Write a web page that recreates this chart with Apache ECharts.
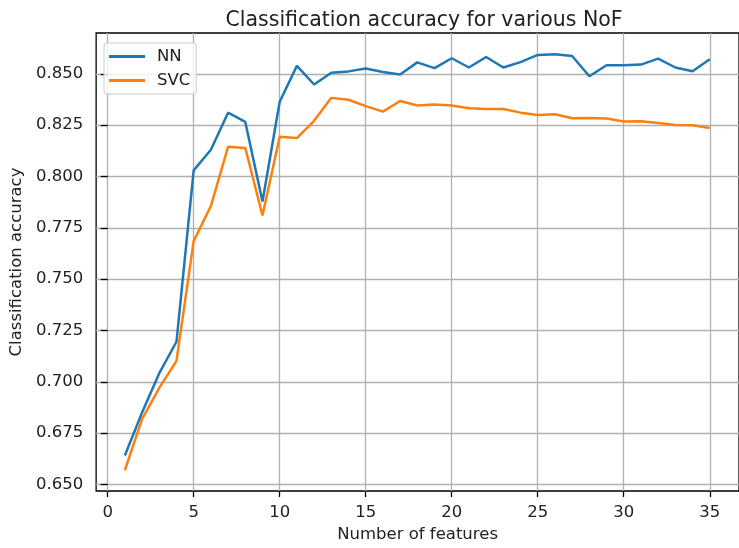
<!DOCTYPE html>
<html>
<head>
<meta charset="utf-8">
<script src="https://cdn.jsdelivr.net/npm/echarts@6/dist/echarts.min.js"></script>
<style>
html, body { margin: 0; padding: 0; background: #fff; }
#chart { width: 739px; height: 548px; }
</style>
</head>
<body>
<div id="chart"></div>
<script>
// number of features on the x axis
var features = [1, 2, 3, 4, 5, 6, 7, 8, 9, 10, 11, 12, 13, 14, 15, 16, 17, 18,
    19, 20, 21, 22, 23, 24, 25, 26, 27, 28, 29, 30, 31, 32, 33, 34, 35];

// accuracy per model
var nnAcc = [0.6641, 0.6850, 0.7042, 0.7195, 0.8030, 0.8130, 0.8311, 0.8266, 0.7878,
    0.8364, 0.8539, 0.8448, 0.8505, 0.8512, 0.8526, 0.8509, 0.8497, 0.8556, 0.8528,
    0.8576, 0.8531, 0.8582, 0.8531, 0.8557, 0.8592, 0.8595, 0.8587, 0.8488, 0.8542,
    0.8542, 0.8545, 0.8574, 0.8531, 0.8513, 0.8571];
var svcAcc = [0.6569, 0.6818, 0.6970, 0.7102, 0.7685, 0.7856, 0.8145, 0.8139, 0.7810,
    0.8194, 0.8187, 0.8271, 0.8383, 0.8374, 0.8343, 0.8316, 0.8368, 0.8346, 0.8351,
    0.8346, 0.8332, 0.8329, 0.8329, 0.8311, 0.8300, 0.8303, 0.8284, 0.8285, 0.8282,
    0.8268, 0.8269, 0.8261, 0.8251, 0.8250, 0.8236];

// tick labels
var xTicks = [0, 5, 10, 15, 20, 25, 30, 35];
var yTicks = [0.650, 0.675, 0.700, 0.725, 0.750, 0.775, 0.800, 0.825, 0.850];

function pairs(xs, ys) {
    var out = [];
    for (var i = 0; i < xs.length; i++) {
        out.push([xs[i], ys[i]]);
    }
    return out;
}

var chart = echarts.init(document.getElementById("chart"), null, { renderer: "canvas" });

var font = "DejaVu Sans";
var textColor = "#222";

var option = {
    backgroundColor: "#fff",
    animation: false,
    title: {
        text: "Classification accuracy for various NoF",
        left: 419,
        textAlign: "center",
        top: 5,
        textStyle: { fontFamily: font, fontSize: 20.5, fontWeight: "normal", color: textColor }
    },
    legend: {
        orient: "vertical",
        left: 104,
        top: 43,
        padding: [5, 6, 5, 5],
        itemGap: 7,
        itemWidth: 36,
        itemHeight: 3,
        itemStyle: { borderWidth: 0 },
        backgroundColor: "rgba(255,255,255,0.8)",
        borderColor: "#cccccc",
        borderWidth: 1,
        borderRadius: 3,
        textStyle: { fontFamily: font, fontSize: 16.5, color: textColor, padding: [0, 0, 0, 7] },
        data: [
            { name: "NN", icon: "rect" },
            { name: "SVC", icon: "rect" }
        ]
    },
    grid: {
        left: 96,
        top: 33,
        width: 650,
        height: 463,
        show: true,
        borderColor: "#000",
        borderWidth: 1.3,
        backgroundColor: "transparent"
    },
    xAxis: {
        type: "value",
        min: -0.67,
        max: 36.7,
        name: "Number of features",
        nameLocation: "middle",
        nameGap: 35,
        nameTextStyle: { fontFamily: font, fontSize: 16.5, color: textColor },
        axisLine: { show: false },
        axisTick: {
            show: true,
            length: 6,
            customValues: xTicks,
            lineStyle: { color: "#000", width: 1.3 }
        },
        axisLabel: {
            customValues: xTicks,
            margin: 13,
            fontFamily: font,
            fontSize: 16.5,
            color: textColor
        },
        splitLine: { show: true, lineStyle: { color: "#b0b0b0", width: 1.3 } }
    },
    yAxis: {
        type: "value",
        min: 0.6468,
        max: 0.8699,
        name: "Classification accuracy",
        nameLocation: "middle",
        nameGap: 65,
        nameTextStyle: { fontFamily: font, fontSize: 16.5, color: textColor },
        axisLine: { show: false },
        axisTick: {
            show: true,
            length: 7,
            customValues: yTicks,
            lineStyle: { color: "#000", width: 1.3 }
        },
        axisLabel: {
            customValues: yTicks,
            margin: 13,
            fontFamily: font,
            fontSize: 16.5,
            color: textColor,
            formatter: function(v) { return v.toFixed(3); }
        },
        splitLine: { show: true, lineStyle: { color: "#b0b0b0", width: 1.3 } }
    },
    series: [
        {
            name: "NN",
            type: "line",
            data: pairs(features, nnAcc),
            showSymbol: false,
            symbol: "none",
            color: "#1f77b4",
            lineStyle: { width: 2.5, color: "#1f77b4" }
        },
        {
            name: "SVC",
            type: "line",
            data: pairs(features, svcAcc),
            showSymbol: false,
            symbol: "none",
            color: "#ff7f0e",
            lineStyle: { width: 2.5, color: "#ff7f0e" }
        }
    ]
};

chart.setOption(option);
</script>
</body>
</html>
